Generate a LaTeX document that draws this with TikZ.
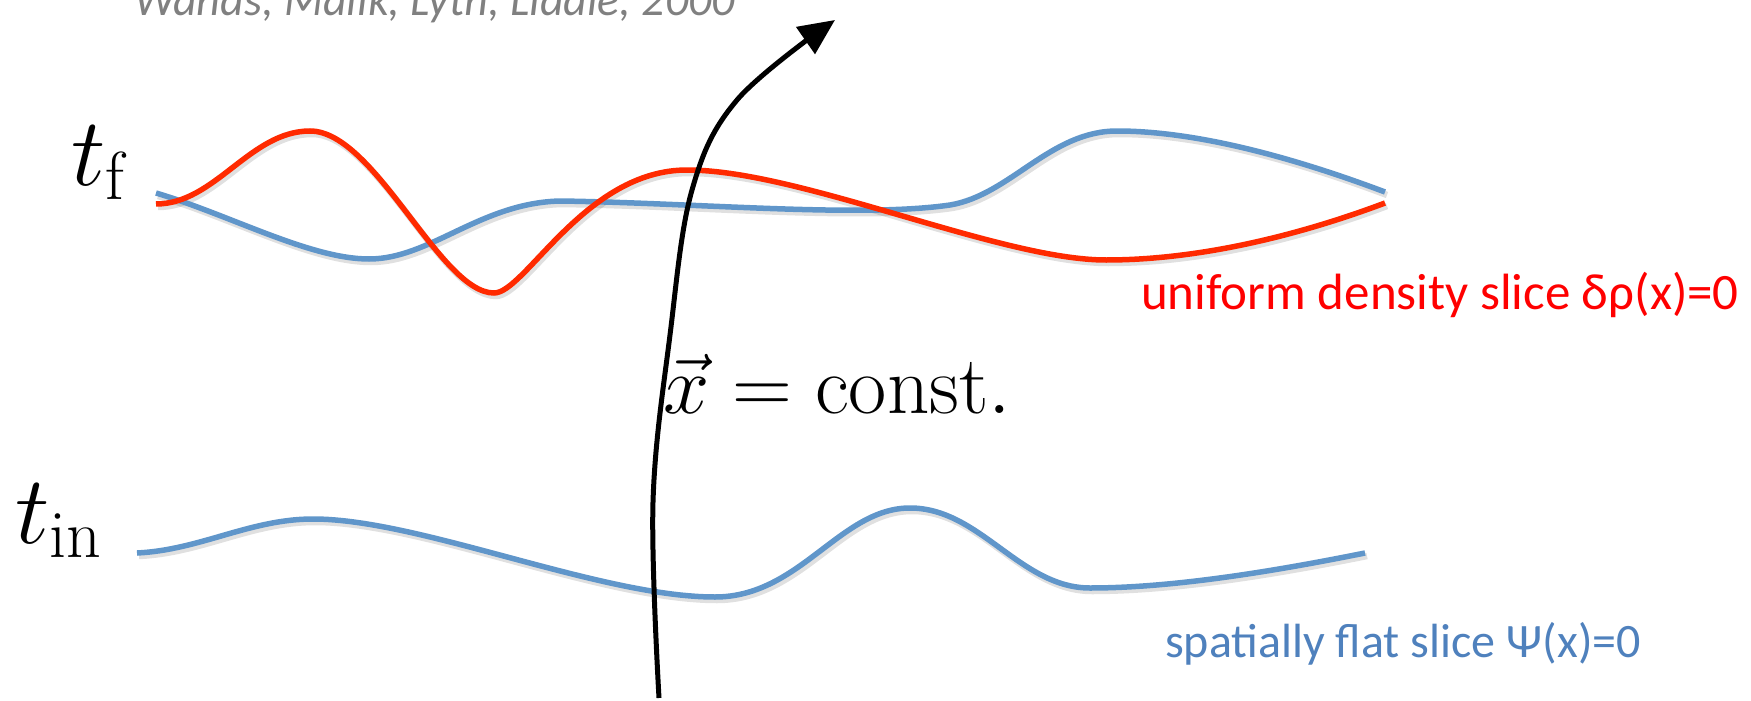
\RequirePackage{fix-cm}
\documentclass[tikz,border=0pt]{standalone}
\usepackage{fontspec}
\setsansfont{Carlito}
\usetikzlibrary{arrows.meta}
\definecolor{curvered}{HTML}{FF2A00}
\definecolor{curveblue}{HTML}{6096CA}
\definecolor{labelred}{HTML}{FF0000}
\definecolor{labelblue}{HTML}{4F81BD}
\definecolor{refgray}{HTML}{808080}
\newcommand\redslice{(156,204) .. controls (215,204) and (250,131) .. (310,131)
  .. controls (375,131) and (440,293) .. (494,293)
  .. controls (525,293) and (585,170) .. (687,170)
  .. controls (800,170) and (1000,260) .. (1106,260)
  .. controls (1200,260) and (1300,235) .. (1385,203)}
\newcommand\blueslicef{(156,193) .. controls (230,215) and (310,259) .. (369,259)
  .. controls (430,259) and (480,203) .. (560,201)
  .. controls (700,203) and (860,218) .. (950,205)
  .. controls (1010,195) and (1050,131) .. (1117,131)
  .. controls (1200,131) and (1300,160) .. (1385,192)}
\newcommand\bluesliceb{(137,553) .. controls (200,550) and (250,519) .. (313,519)
  .. controls (420,519) and (600,597) .. (715,597)
  .. controls (800,597) and (840,508) .. (910,508)
  .. controls (980,508) and (1020,588) .. (1090,588)
  .. controls (1180,588) and (1290,568) .. (1365,553)}
\begin{document}
\begin{tikzpicture}[x=1pt,y=-1pt,
  slice/.style={line width=5.5pt},
  shadowline/.style={line width=6.5pt, black, opacity=0.12, shift={(2,3)}},
  worldline/.style={line width=5pt, black, -{Triangle[length=36pt,width=32pt]}},
  mathlabel/.style={inner sep=0pt, anchor=base west, font=\fontsize{97}{110}\selectfont},
  slicelabel/.style={inner sep=0pt, anchor=base west}]
\useasboundingbox (0,0) rectangle (1751,701);
% shadows
\draw[shadowline] \redslice;
\draw[shadowline] \blueslicef;
\draw[shadowline] \bluesliceb;
% slices
\draw[slice, curveblue] \blueslicef;
\draw[slice, curvered] \redslice;
\draw[slice, curveblue] \bluesliceb;
% world line
\coordinate (xa) at (659,698);
\coordinate (w1) at (653,502);
\coordinate (w2) at (670,335);
\coordinate (w3) at (692,190);
\coordinate (w4) at (737,100);
\coordinate (xb) at (835,20);
\draw[worldline] plot[smooth,tension=0.6] coordinates {(xa) (w1) (w2) (w3) (w4) (xb)};
% labels
\node[mathlabel] (tf) at (71,185) {$t_{\mathrm{f}}$};
\node[mathlabel] (tin) at (15,543) {$t_{\mathrm{in}}$};
\node[mathlabel, font=\fontsize{83}{95}\selectfont] (xc) at (663,413) {$\vec{x}=\mathrm{const.}$};
\node[slicelabel, labelred, font=\sffamily\fontsize{51}{60}\selectfont] (rl) at (1141,309) {uniform density slice δρ(x)=0};
\node[slicelabel, labelblue, font=\sffamily\fontsize{48}{58}\selectfont] (bl) at (1165,657) {spatially flat slice Ψ(x)=0};
\node[inner sep=0pt, anchor=base west, refgray, font=\sffamily\itshape\fontsize{46}{54}\selectfont] (ref) at (134,16) {Wands, Malik, Lyth, Liddle, 2000};
\end{tikzpicture}
\end{document}
